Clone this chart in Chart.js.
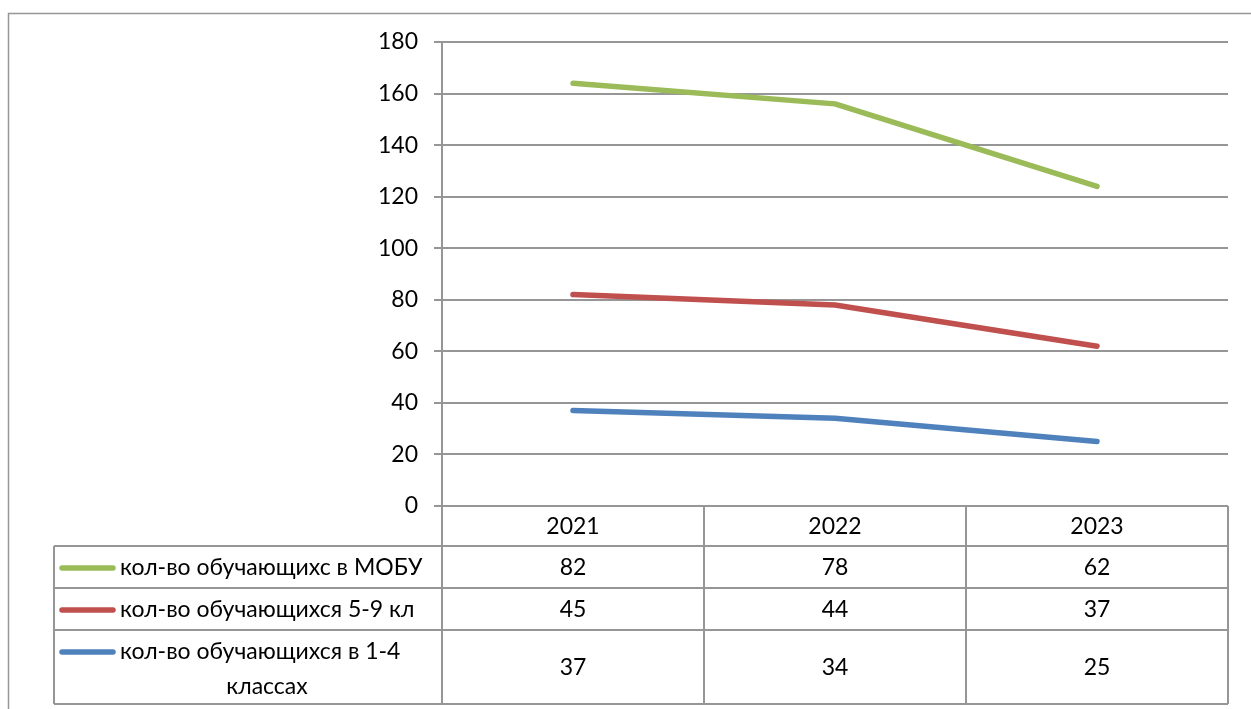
<!DOCTYPE html>
<html><head><meta charset="utf-8">
<script src="https://cdn.jsdelivr.net/npm/chart.js@4/dist/chart.umd.min.js"></script>
<style>html,body{margin:0;padding:0;background:#fff}#wrap{width:1251px;height:709px;position:relative}</style>
</head><body><div id="wrap"><canvas id="c" width="1251" height="709"></canvas></div>
<script>
const categories = ['2021', '2022', '2023'];
const seriesNames = ['кол-во обучающихс в МОБУ', 'кол-во обучающихся 5-9 кл', 'кол-во обучающихся в 1-4 классах'];
const mobu = [82, 78, 62];
const grades59 = [45, 44, 37];
const grades14 = [37, 34, 25];
const yTicks = [0, 20, 40, 60, 80, 100, 120, 140, 160, 180];
const colors = ['#9BBB59', '#C0504D', '#4F81BD'];
const FONT = 'Lato, "Open Sans", sans-serif';
const FS = 23;
const GRID = '#969696';

const tablePlugin = {
  id: 'tablePlugin',
  afterDraw(chart) {
    const ctx = chart.ctx;
    const xs = chart.scales.x;
    const ca = chart.chartArea;
    const half = (xs.getPixelForValue(1) - xs.getPixelForValue(0)) / 2;
    const rows = [ca.bottom, ca.bottom + 40, ca.bottom + 82, ca.bottom + 124, ca.bottom + 198];
    const legendLeft = 54;
    ctx.save();
    ctx.strokeStyle = GRID; ctx.lineWidth = 1.5;
    ctx.beginPath(); ctx.moveTo(8.5, 709); ctx.lineTo(8.5, 13.5); ctx.lineTo(1251, 13.5); ctx.stroke();
    ctx.lineWidth = 2;
    ctx.beginPath();
    for (let r = 1; r < rows.length; r++) {
      const y = Math.round(rows[r]);
      ctx.moveTo(legendLeft, y); ctx.lineTo(ca.right, y);
    }
    ctx.moveTo(legendLeft, rows[1]); ctx.lineTo(legendLeft, rows[4]);
    for (let i = 0; i <= categories.length; i++) {
      const x = Math.round(xs.getPixelForValue(i) - half);
      ctx.moveTo(x, rows[0]); ctx.lineTo(x, rows[4]);
    }
    ctx.stroke();
    ctx.fillStyle = '#000'; ctx.font = FS + 'px ' + FONT; ctx.textAlign = 'center'; ctx.textBaseline = 'middle';
    const vals = [mobu, grades59, grades14];
    categories.forEach((c, i) => {
      const x = xs.getPixelForValue(i);
      ctx.fillText(c, x, (rows[0] + rows[1]) / 2 + 1);
      vals.forEach((arr, s) => ctx.fillText(String(arr[i]), x, (rows[s + 1] + rows[s + 2]) / 2 + 1));
    });
    const legendLines = [[seriesNames[0]], [seriesNames[1]], ['кол-во обучающихся в 1-4', 'классах']];
    legendLines.forEach((lines, s) => {
      const cy = (rows[s + 1] + rows[s + 2]) / 2;
      const firstY = lines.length > 1 ? cy - 16 : cy;
      ctx.strokeStyle = colors[s]; ctx.lineWidth = 5.5; ctx.lineCap = 'round';
      ctx.beginPath(); ctx.moveTo(62, firstY + 1); ctx.lineTo(113, firstY + 1); ctx.stroke();
      ctx.textAlign = 'left';
      ctx.fillText(lines[0], 120, firstY + 1);
      if (lines.length > 1) { ctx.textAlign = 'center'; ctx.fillText(lines[1], 267, firstY + 36); }
    });
    ctx.restore();
  }
};

const common = { borderWidth: 5.5, pointRadius: 0, tension: 0, fill: false, borderCapStyle: 'round', borderJoinStyle: 'round' };
new Chart(document.getElementById('c'), {
  type: 'line',
  data: {
    labels: categories,
    datasets: [
      Object.assign({ label: seriesNames[2], data: grades14, borderColor: colors[2] }, common),
      Object.assign({ label: seriesNames[1], data: grades59, borderColor: colors[1] }, common),
      Object.assign({ label: seriesNames[0], data: mobu, borderColor: colors[0] }, common)
    ]
  },
  options: {
    responsive: false, animation: false,
    layout: { padding: { top: 42, right: 23, bottom: 203, left: 0 } },
    plugins: { legend: { display: false }, tooltip: { enabled: false } },
    scales: {
      x: { display: false, offset: true },
      y: {
        stacked: true, min: 0, max: 180,
        afterBuildTicks: (ax) => { ax.ticks = yTicks.map(v => ({ value: v })); },
        afterFit: (ax) => { ax.width = 442; },
        grid: { color: GRID, lineWidth: 2, tickLength: 8, drawTicks: true, tickColor: GRID, tickWidth: 2 },
        border: { color: GRID, width: 2 },
        ticks: { color: '#000', font: { family: FONT, size: FS }, padding: 16 }
      }
    }
  },
  plugins: [tablePlugin]
});
</script></body></html>
